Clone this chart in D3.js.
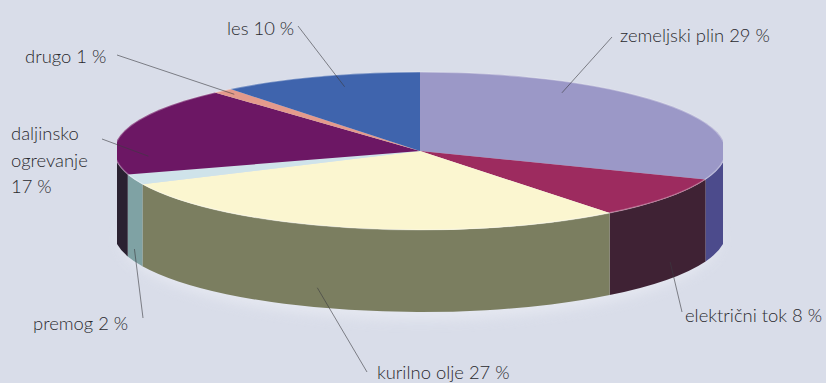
<!DOCTYPE html>
<html>
<head>
<meta charset="utf-8">
<script src="https://cdn.jsdelivr.net/npm/d3@7"></script>
<style>
  html, body { margin: 0; padding: 0; background: #d9dde9; }
  svg { display: block; }
  .lbl { font-family: Lato, "Open Sans", sans-serif; font-weight: 300; font-size: 18.4px; fill: #2a2a2e; }
</style>
</head>
<body>
<svg id="chart" width="826" height="383"></svg>
<script>
// Heating energy sources, share of households (%)
const categories = ["zemeljski plin", "električni tok", "kurilno olje", "premog", "daljinsko ogrevanje", "drugo", "les"];
const shares = [29, 8, 27, 2, 17, 1, 10];
const labelLines = [
  ["zemeljski plin 29 %"],
  ["električni tok 8 %"],
  ["kurilno olje 27 %"],
  ["premog 2 %"],
  ["daljinsko", "ogrevanje", "17 %"],
  ["drugo 1 %"],
  ["les 10 %"]
];
const topColors  = ["#9b98c7", "#9d2b5f", "#fbf6d0", "#cfe3ea", "#6c1764", "#e49a8c", "#3f64ad"];
const sideColors = ["#4c4b8c", "#3f2234", "#7b7e60", "#7fa2a4", "#2a2131", "#6e3b44", "#24396a"];

// Label placement: text origin, leader start, and where the leader meets the slice
// (t = position along the slice, r = radius fraction on top, d = depth fraction on the wall)
const labelLayout = [
  { x: 620, y: 42,  lx: 612, ly: 37,  face: "top",  t: 0.29, r: 0.87 },
  { x: 685, y: 322, lx: 682, ly: 312, face: "side", t: 0.46, d: 0.80 },
  { x: 377, y: 379, lx: 367, ly: 372, face: "side", t: 0.56, d: 0.76 },
  { x: 33,  y: 330, lx: 143, ly: 318, face: "side", t: 0.50, d: 0.85 },
  { x: 11,  y: 140, lx: 102, ly: 139, face: "top",  t: 0.20, r: 0.89, lineH: 26.5 },
  { x: 25,  y: 63,  lx: 117, ly: 55,  face: "top",  t: 0.50, r: 0.94 },
  { x: 227, y: 35,  lx: 298, ly: 26,  face: "top",  t: 0.56, r: 0.85 }
];

const cx = 420, cy = 151, rx = 306, ry = 79, depth = 82;
const k = ry / rx;          // vertical squash of the tilted disc
const D = depth / k;        // wall height in unsquashed units

const svg = d3.select("#chart");
const defs = svg.append("defs");
defs.append("clipPath").attr("id", "pieClip")
  .append("rect").attr("x", 117).attr("y", 0).attr("width", 606).attr("height", 383);
const blur = defs.append("filter").attr("id", "soft").attr("x", "-20%").attr("y", "-50%").attr("width", "140%").attr("height", "200%");
blur.append("feGaussianBlur").attr("stdDeviation", 6);

// pale glow under the disc
svg.append("ellipse")
  .attr("cx", cx).attr("cy", cy + depth + 6)
  .attr("rx", rx - 6).attr("ry", ry + 2)
  .attr("fill", "#eef0f6").attr("opacity", 0.55)
  .attr("filter", "url(#soft)");

const arcs = d3.pie().sort(null).value(d => d)(shares);

const root = svg.append("g").attr("clip-path", "url(#pieClip)");
const disc = root.append("g").attr("transform", `translate(${cx},${cy}) scale(1,${k})`);

// outer wall of a slice, only the part facing the viewer
function wallPath(a0, a1) {
  const s = Math.max(a0, Math.PI / 2), e = Math.min(a1, 3 * Math.PI / 2);
  if (e <= s) return null;
  const p = d3.path();
  p.moveTo(rx * Math.sin(s), -rx * Math.cos(s));
  p.arc(0, 0, rx, s - Math.PI / 2, e - Math.PI / 2, false);
  p.lineTo(rx * Math.sin(e), -rx * Math.cos(e) + D);
  p.arc(0, D, rx, e - Math.PI / 2, s - Math.PI / 2, true);
  p.closePath();
  return p.toString();
}

disc.selectAll("path.wall")
  .data(arcs.filter(a => wallPath(a.startAngle, a.endAngle)))
  .join("path")
  .attr("class", "wall")
  .attr("d", a => wallPath(a.startAngle, a.endAngle))
  .attr("fill", a => sideColors[a.index]);

const arcGen = d3.arc().innerRadius(0).outerRadius(rx);
disc.selectAll("path.top")
  .data(arcs)
  .join("path")
  .attr("class", "top")
  .attr("d", arcGen)
  .attr("fill", a => topColors[a.index]);

// light rim along the top edge
disc.append("ellipse")
  .attr("rx", rx - 0.5).attr("ry", rx - 0.5)
  .attr("fill", "none")
  .attr("stroke", "#ffffff").attr("stroke-opacity", 0.3)
  .attr("stroke-width", 1.4)
  .attr("vector-effect", "non-scaling-stroke");

// leader anchor on the slice in page coordinates
function anchor(a, L) {
  const ang = a.startAngle + (a.endAngle - a.startAngle) * L.t;
  if (L.face === "top") {
    return [cx + L.r * rx * Math.sin(ang), cy - L.r * ry * Math.cos(ang)];
  }
  return [cx + rx * Math.sin(ang), cy - ry * Math.cos(ang) + L.d * depth];
}

const labels = svg.append("g");
arcs.forEach(a => {
  const L = labelLayout[a.index];
  const [ax, ay] = anchor(a, L);
  labels.append("line")
    .attr("x1", L.lx).attr("y1", L.ly).attr("x2", ax).attr("y2", ay)
    .attr("stroke", "#3a3a40").attr("stroke-width", 0.6);
  const t = labels.append("text").attr("class", "lbl").attr("x", L.x).attr("y", L.y);
  labelLines[a.index].forEach((line, i) => {
    t.append("tspan").attr("x", L.x).attr("dy", i === 0 ? 0 : (L.lineH || 20)).text(line);
  });
});
</script>
</body>
</html>
